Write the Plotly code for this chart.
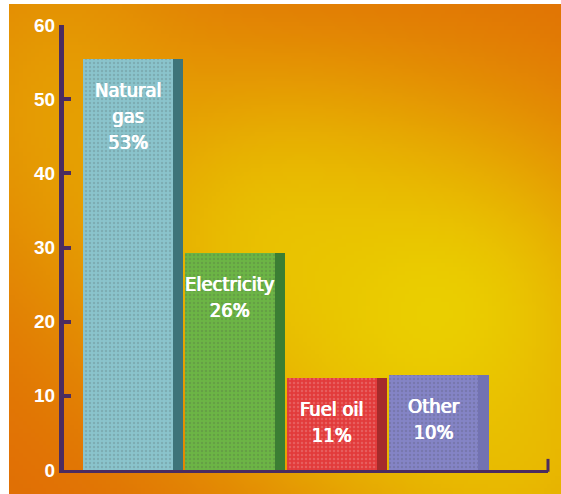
import base64
import struct
import zlib

import numpy as np
import plotly.graph_objects as go

# ---------------- data ----------------
categories = ["Natural gas", "Electricity", "Fuel oil", "Other"]
label_lines = ["Natural<br>gas", "Electricity", "Fuel oil", "Other"]
shares = [53, 26, 11, 10]                 # printed percentages
bar_heights = [55.4, 29.2, 12.4, 12.8]    # bar heights as drawn on the axis
y_ticks = [0, 10, 20, 30, 40, 50, 60]

# ---------------- styles ----------------
front_colors = ["#8AC4CC", "#6CB545", "#E23B3B", "#8484C6"]
side_colors = ["#3E7479", "#3B7E33", "#A52B2B", "#7272B2"]
axis_color = "#4B2C60"

W, H = 561, 494
L, R, T, B = 64, 13, 25, 24
PW, PH = W - L - R, H - T - B


def background_png(w, h):
    ys, xs = np.mgrid[0:h, 0:w].astype(float)
    X = xs * (W / w)
    Y = ys * (H / h)

    def g(cx, cy, sx, sy):
        return np.exp(-(((X - cx) / sx) ** 2 + ((Y - cy) / sy) ** 2) / 2)

    keep = np.ones_like(X)
    for cx, cy, sx, sy, a in [(430, 310, 170, 150, 1.0),
                              (260, 230, 120, 120, 0.7),
                              (40, 90, 110, 150, 0.45),
                              (520, 480, 130, 90, 0.6)]:
        keep *= 1 - a * g(cx, cy, sx, sy)
    wgt = np.clip(1 - keep, 0, 1)
    orange = np.array([224, 108, 5], float)
    yellow = np.array([234, 206, 0], float)
    img = (orange + (yellow - orange) * wgt[..., None]).round().astype(np.uint8)
    raw = b"".join(b"\x00" + row.tobytes() for row in img)

    def chunk(t, d):
        return struct.pack(">I", len(d)) + t + d + struct.pack(">I", zlib.crc32(t + d) & 0xFFFFFFFF)

    png = (b"\x89PNG\r\n\x1a\n"
           + chunk(b"IHDR", struct.pack(">IIBBBBB", w, h, 8, 2, 0, 0, 0))
           + chunk(b"IDAT", zlib.compress(raw, 9))
           + chunk(b"IEND", b""))
    return "data:image/png;base64," + base64.b64encode(png).decode()


fig = go.Figure()

bar_w = 0.88
# side (depth) faces, drawn first so they sit behind the fronts
fig.add_trace(go.Bar(
    x=categories, y=bar_heights, width=bar_w, offset=-bar_w / 2 + 0.1,
    marker=dict(color=side_colors, line=dict(width=0)),
    hoverinfo="skip", showlegend=False,
))
# front faces
fig.add_trace(go.Bar(
    x=categories, y=bar_heights, width=bar_w, offset=-bar_w / 2,
    marker=dict(color=front_colors, line=dict(width=0),
                pattern=dict(shape=".", fillmode="overlay", fgcolor="white",
                             fgopacity=0.18, size=4, solidity=0.3)),
    showlegend=False,
))

label_font = dict(family="DejaVu Sans Condensed, Liberation Sans Narrow, sans-serif",
                  size=20, color="white",
                  shadow="0.6px 0 0 white, -0.4px 0 0 white")
for cat, lines, share, h in zip(categories, label_lines, shares, bar_heights):
    fig.add_annotation(x=cat, y=h, text=f"{lines}<br>{share}%", showarrow=False,
                       yanchor="top", yshift=-17, align="center", font=label_font)

# small hook at the right end of the baseline
fig.add_shape(type="line", xref="paper", yref="paper", x0=1, x1=1, y0=-0.004, y1=0.025,
              line=dict(color=axis_color, width=3))

fig.add_layout_image(dict(
    source=background_png(140, 124), xref="paper", yref="paper",
    x=(9 - L) / PW, y=(H - B - 4) / PH, sizex=(W - 9) / PW, sizey=(H - 4) / PH,
    xanchor="left", yanchor="top", sizing="stretch", layer="below",
))

fig.update_layout(
    width=W, height=H, margin=dict(l=L, r=R, t=T, b=B),
    paper_bgcolor="white", plot_bgcolor="rgba(0,0,0,0)",
    barmode="overlay", bargap=0,
    xaxis=dict(type="category", range=[-0.627, 4.123], showgrid=False, zeroline=False,
               showticklabels=False, showline=True, linecolor=axis_color, linewidth=3,
               ticks=""),
    yaxis=dict(range=[0, 60], tickvals=y_ticks, showgrid=False, zeroline=False,
               showline=True, linecolor=axis_color, linewidth=5,
               ticks="inside", ticklen=7, tickwidth=4, tickcolor=axis_color,
               tickfont=dict(family="Liberation Sans, Arial, sans-serif", size=19,
                             color="white", weight="bold")),
)

fig.write_html("out.html", config={"displayModeBar": False},
               post_script="document.body.style.margin='0';")
